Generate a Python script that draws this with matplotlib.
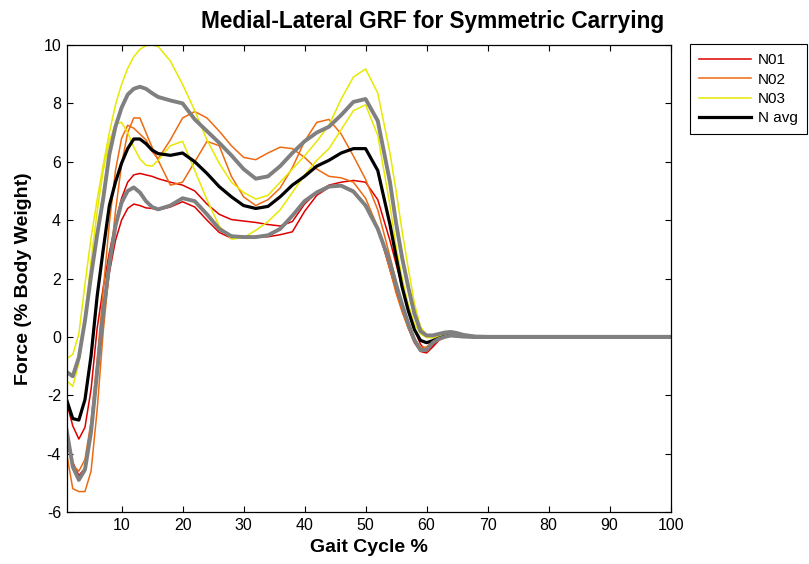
import matplotlib
matplotlib.use("Agg")
import matplotlib.pyplot as plt

plt.rcParams['font.family'] = ['Liberation Sans', 'DejaVu Sans']
plt.rcParams['axes.unicode_minus'] = False

# gait cycle sample points (%)
gait = [1, 2, 3, 4, 5, 6, 7, 8, 9, 10, 11, 12, 13, 14, 15, 16,
        18, 20, 22, 24, 26, 28, 30, 32, 34, 36, 38, 40, 42, 44, 46, 48, 50, 52,
        54, 55, 56, 57, 58, 59, 60, 61, 62, 63, 64, 65, 66,
        68, 70, 100]

# subject N01, two trials
n01_a = [-2.25, -3.05, -3.5, -3.1, -1.8, 0.3, 1.7, 2.9, 3.9, 4.75, 5.3, 5.55, 5.6, 5.55, 5.5, 5.42,
         5.3, 5.2, 5.0, 4.55, 4.2, 4.02, 3.97, 3.92, 3.85, 3.8, 3.95, 4.55, 4.95, 5.2, 5.3, 5.36, 5.3, 4.7,
         3.3, 2.5, 1.7, 0.9, 0.25, -0.25, -0.5, -0.3, -0.1, 0.02, 0.08, 0.06, 0.03,
         0.0, 0.0, 0.0]
n01_b = [-3.3, -4.3, -4.75, -4.5, -3.3, -1.3, 0.6, 2.2, 3.3, 4.0, 4.4, 4.55, 4.5, 4.42, 4.4, 4.35,
         4.45, 4.63, 4.45, 4.0, 3.58, 3.38, 3.4, 3.42, 3.43, 3.5, 3.6, 4.3, 4.85, 5.12, 5.2, 5.02, 4.5, 3.75,
         2.3, 1.6, 0.9, 0.3, -0.2, -0.5, -0.55, -0.35, -0.12, 0.0, 0.05, 0.04, 0.02,
         0.0, 0.0, 0.0]

# subject N02, two trials
n02_a = [-4.0, -5.2, -5.3, -5.3, -4.6, -2.5, 0.2, 2.3, 4.3, 5.9, 7.0, 7.5, 7.5, 7.0, 6.5, 6.05,
         5.2, 5.3, 6.0, 6.7, 6.55, 5.5, 4.8, 4.5, 4.7, 5.1, 5.8, 6.7, 7.35, 7.45, 6.95, 6.2, 5.4, 4.35,
         2.75, 1.9, 1.1, 0.45, -0.05, -0.4, -0.4, -0.2, 0.0, 0.12, 0.18, 0.13, 0.06,
         0.01, 0.0, 0.0]
n02_b = [-3.6, -4.4, -4.6, -4.2, -2.9, -0.8, 1.6, 3.9, 5.7, 6.8, 7.25, 7.15, 6.95, 6.75, 6.35, 6.1,
         6.75, 7.5, 7.72, 7.5, 7.05, 6.55, 6.15, 6.07, 6.3, 6.5, 6.45, 6.15, 5.75, 5.5, 5.45, 5.3, 4.75, 3.75,
         2.3, 1.5, 0.85, 0.3, -0.1, -0.35, -0.35, -0.15, 0.02, 0.12, 0.17, 0.13, 0.06,
         0.01, 0.0, 0.0]

# subject N03, two trials
n03_a = [-0.75, -0.6, 0.1, 1.8, 3.4, 4.7, 5.9, 7.0, 7.95, 8.65, 9.2, 9.6, 9.85, 9.98, 10.0, 9.95,
         9.45, 8.65, 7.75, 6.75, 5.95, 5.3, 4.95, 4.72, 4.85, 5.3, 5.75, 6.2, 6.7, 7.25, 8.15, 8.9, 9.18, 8.35,
         6.3, 5.0, 3.6, 2.35, 1.15, 0.35, 0.07, 0.05, 0.05, 0.04, 0.03, 0.02, 0.01,
         0.0, 0.0, 0.0]
n03_b = [-1.5, -1.7, -0.9, 0.7, 2.6, 4.3, 5.7, 6.7, 7.3, 7.35, 7.0, 6.5, 6.1, 5.88, 5.85, 6.05,
         6.55, 6.7, 5.7, 4.7, 3.8, 3.35, 3.4, 3.65, 3.95, 4.35, 4.95, 5.55, 6.05, 6.45, 7.1, 7.75, 7.95, 6.9,
         4.5, 3.1, 2.0, 1.1, 0.45, 0.1, -0.02, -0.03, 0.0, 0.02, 0.02, 0.01, 0.0,
         0.0, 0.0, 0.0]

# group average and +/- one SD
n_avg = [-2.16, -2.8, -2.85, -2.15, -0.65, 1.4, 3.0, 4.5, 5.3, 5.95, 6.45, 6.78, 6.78, 6.62, 6.4, 6.28,
         6.22, 6.3, 6.0, 5.6, 5.15, 4.8, 4.5, 4.4, 4.47, 4.8, 5.2, 5.5, 5.85, 6.05, 6.3, 6.45, 6.45, 5.7,
         3.85, 2.75, 1.7, 0.9, 0.25, -0.12, -0.2, -0.13, -0.05, 0.02, 0.05, 0.04, 0.02,
         0.0, 0.0, 0.0]
avg_hi = [-1.2, -1.35, -0.7, 0.55, 2.1, 3.5, 4.75, 6.25, 7.2, 7.85, 8.3, 8.5, 8.57, 8.5, 8.35, 8.22,
          8.1, 8.0, 7.45, 7.05, 6.65, 6.22, 5.75, 5.42, 5.5, 5.85, 6.3, 6.7, 7.0, 7.2, 7.6, 8.05, 8.15, 7.4,
          5.3, 3.9, 2.7, 1.7, 0.8, 0.2, 0.05, 0.05, 0.1, 0.15, 0.17, 0.13, 0.07,
          0.01, 0.0, 0.0]
avg_lo = [-3.2, -4.45, -4.9, -4.55, -3.25, -1.2, 0.85, 2.5, 3.8, 4.6, 5.0, 5.12, 4.95, 4.65, 4.45, 4.37,
          4.5, 4.75, 4.65, 4.2, 3.7, 3.45, 3.42, 3.42, 3.48, 3.7, 4.15, 4.65, 4.95, 5.15, 5.18, 4.98, 4.5, 3.7,
          2.55, 1.8, 1.1, 0.45, -0.1, -0.45, -0.45, -0.2, -0.07, 0.0, 0.05, 0.03, 0.01,
          0.0, 0.0, 0.0]

red = '#dd0000'
orange = '#ee6a10'
yellow = '#e8e800'

fig = plt.figure(figsize=(8.09, 5.64), dpi=100)
ax = fig.add_axes([0.0824, 0.0922, 0.7465, 0.828])

ax.plot(gait, n01_a, color=red, lw=1.1, label='N01')
ax.plot(gait, n01_b, color=red, lw=1.1)
ax.plot(gait, n02_a, color=orange, lw=1.1, label='N02')
ax.plot(gait, n02_b, color=orange, lw=1.1)
ax.plot(gait, n03_a, color=yellow, lw=1.1, label='N03')
ax.plot(gait, n03_b, color=yellow, lw=1.1)
ax.plot(gait, n_avg, color='black', lw=2.3, label='N avg')
ax.plot(gait, avg_hi, color='#808080', lw=2.8)
ax.plot(gait, avg_lo, color='#808080', lw=2.8)

ax.set_xlim(1, 100)
ax.set_ylim(-6, 10)
ax.set_xticks(range(10, 101, 10))
ax.set_yticks(range(-6, 11, 2))
ax.tick_params(direction='in', top=True, right=True, length=4, width=0.8, labelsize=11.5, pad=4)
for s in ax.spines.values():
    s.set_linewidth(0.9)

ax.set_xlabel('Gait Cycle %', fontsize=14, fontweight='bold')
ax.xaxis.set_label_coords(0.5, -0.058)
ax.set_ylabel('Force (% Body Weight)', fontsize=14, fontweight='bold')
ax.yaxis.set_label_coords(-0.058, 0.5)
fig.text(0.535, 0.962, 'Medial-Lateral GRF for Symmetric Carrying', fontsize=16.3,
         fontweight='bold', ha='center', va='center')

leg = ax.legend(loc='upper left', bbox_to_anchor=(0.853, 0.922), bbox_transform=fig.transFigure,
                fontsize=11, frameon=True, fancybox=False, framealpha=1, edgecolor='black',
                handlelength=3.4, handletextpad=0.45, borderpad=0.6, labelspacing=0.35,
                borderaxespad=0)
leg.get_frame().set_linewidth(0.8)

fig.savefig('out.png', dpi=100)
